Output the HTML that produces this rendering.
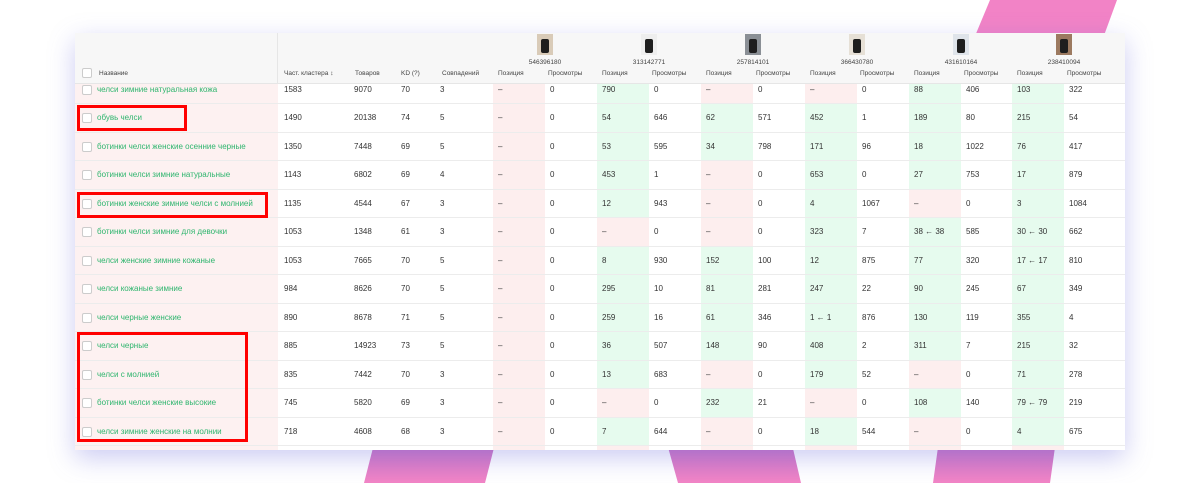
<!DOCTYPE html>
<html><head><meta charset="utf-8">
<style>
html,body{margin:0;padding:0;background:#fff;width:1200px;height:483px;overflow:hidden;position:relative;font-family:"Liberation Sans","DejaVu Sans",sans-serif;}
.pink{position:absolute;background:linear-gradient(#c070c4,#f385c6);}
#card{position:absolute;left:75px;top:33px;width:1050px;height:417px;background:#fff;overflow:hidden;box-shadow:0 8px 24px rgba(110,110,220,0.35);}
.abs{position:absolute;}
.t{position:absolute;font-size:8px;color:#333;white-space:nowrap;line-height:10px;}
.h{position:absolute;font-size:6.5px;color:#444;white-space:nowrap;}
.nm{color:#2fb56e;}
.cb{position:absolute;width:8px;height:8px;border:1px solid #ccc;border-radius:2px;background:#fff;}
.red{position:absolute;border:3px solid #f00;box-sizing:border-box;}
</style></head><body>
<div class="pink" style="left:960px;top:0;width:160px;height:60px;clip-path:polygon(30px 0,157px 0,135px 60px,5px 60px);background:#f283c6"></div>
<div class="pink" style="left:360px;top:440px;width:140px;height:43px;clip-path:polygon(15px 0,136px 0,125px 43px,4px 43px)"></div>
<div class="pink" style="left:660px;top:440px;width:150px;height:43px;clip-path:polygon(6px 0,131px 0,141px 43px,18px 43px)"></div>
<div class="pink" style="left:930px;top:440px;width:130px;height:43px;clip-path:polygon(9px 0,126px 0,120px 43px,3px 43px)"></div>
<div id="card"></div>
<script>
const names=["челси зимние натуральная кожа","обувь челси","ботинки челси женские осенние черные","ботинки челси зимние натуральные","ботинки женские зимние челси с молнией","ботинки челси зимние для девочки","челси женские зимние кожаные","челси кожаные зимние","челси черные женские","челси черные","челси с молнией","ботинки челси женские высокие","челси зимние женские на молнии"];
const freq=["1583","1490","1350","1143","1135","1053","1053","984","890","885","835","745","718"];
const goods=["9070","20138","7448","6802","4544","1348","7665","8626","8678","14923","7442","5820","4608"];
const kd=["70","74","69","69","67","61","70","70","71","73","70","69","68"];
const matches=["3","5","5","4","3","3","5","5","5","5","3","3","3"];
const productIds=["546396180","313142771","257814101","366430780","431610164","238410094"];
const positions=[
["–","790","–","–","88","103"],
["–","54","62","452","189","215"],
["–","53","34","171","18","76"],
["–","453","–","653","27","17"],
["–","12","–","4","–","3"],
["–","–","–","323","38 ← 38","30 ← 30"],
["–","8","152","12","77","17 ← 17"],
["–","295","81","247","90","67"],
["–","259","61","1 ← 1","130","355"],
["–","36","148","408","311","215"],
["–","13","–","179","–","71"],
["–","–","232","–","108","79 ← 79"],
["–","7","–","18","–","4"]];
const views=[
["0","0","0","0","406","322"],
["0","646","571","1","80","54"],
["0","595","798","96","1022","417"],
["0","1","0","0","753","879"],
["0","943","0","1067","0","1084"],
["0","0","0","7","585","662"],
["0","930","100","875","320","810"],
["0","10","281","22","245","349"],
["0","16","346","876","119","4"],
["0","507","90","2","7","32"],
["0","683","0","52","0","278"],
["0","0","21","0","140","219"],
["0","644","0","544","0","675"]];

const card=document.getElementById('card');
function mk(cls,x,y,w,h,txt,style){const d=document.createElement('div');d.className=cls;d.style.left=x+'px';d.style.top=y+'px';if(w!=null)d.style.width=w+'px';if(h!=null)d.style.height=h+'px';if(txt!=null)d.textContent=txt;if(style)d.style.cssText+=style;card.appendChild(d);return d;}
const RH=28.5, Y0=42.5; // row1 top relative to card
const grpX=[418,522,626,730,834,937];
// name column bg
let e=mk('abs',0,0,203,417,null,'background:#fdf1f1');


const nRows=names.length+1;
for(let i=0;i<nRows;i++){
  const top=Y0+i*RH;
  for(let g=0;g<6;g++){
    const p=i<names.length?positions[i][g]:'–';
    const c=mk('abs',grpX[g],top,52,RH,null,'background:'+(p.startsWith('–')?'#fdeeee':'#e6fbee'));
    
    
  }
  const ln=mk('abs',0,top+RH-1,1050,1,null,'background:#ececec');
  
  
  if(i>=names.length) continue;
  const cy=top+RH/2-5;
  const cb=mk('cb',7,cy,null,null);
  
  
  const n=mk('t nm',22,cy,null,null,names[i]);
  
  
  const cols=[[209,freq[i]],[279,goods[i]],[326,kd[i]],[365,matches[i]]];
  for(const [x,v] of cols){const t=mk('t',x,cy,null,null,v);}
  for(let g=0;g<6;g++){
    const a=mk('t',grpX[g]+5,cy,null,null,positions[i][g]);
    
    
    const b=mk('t',grpX[g]+57,cy,null,null,views[i][g]);
    
    
  }
}
// header
const hd=mk('abs',0,0,1050,50,null,'background:#f7f7f7;border-bottom:1px solid #e6e6e6');


const vl=mk('abs',202,0,1,50,null,'background:#e6e6e6');


const hcb=mk('cb',7,35,null,null);


const hl=[[24,'Название'],[209,'Част. кластера ↕'],[280,'Товаров'],[326,'KD (?)'],[367,'Совпадений']];
for(const [x,v] of hl){const t=mk('h',x,37,null,null,v);}
const thumbBg=['#d9cbb8','#eeeeee','#8a8f95','#e6e0d6','#dfe4ea','#9c7a60'];
for(let g=0;g<6;g++){
  const cx=grpX[g]+52;
  const th=mk('abs',cx-8,1,16,21,null,'background:'+thumbBg[g]+';overflow:hidden');
  
  
  const s=document.createElement('div');s.style.cssText='position:absolute;left:4px;top:5px;width:8px;height:14px;background:#1e1e1e;border-radius:2px';th.appendChild(s);
  const id=mk('h',cx-20,26,40,null,productIds[g],'text-align:center');
  
  
  const p=mk('h',grpX[g]+5,37,null,null,'Позиция');
  
  
  const v=mk('h',grpX[g]+55,37,null,null,'Просмотры');
  
  
}
</script>
<div class="red" style="left:77px;top:105px;width:110px;height:26px"></div>
<div class="red" style="left:77px;top:192px;width:191px;height:26px"></div>
<div class="red" style="left:77px;top:332px;width:171px;height:110px"></div>
</body></html>
